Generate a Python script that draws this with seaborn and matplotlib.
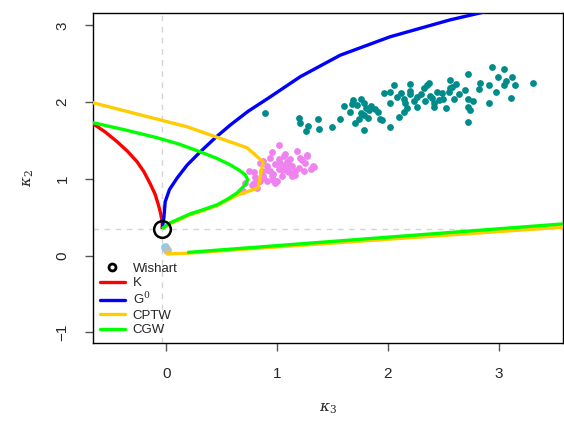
import numpy as np
import pandas as pd
import matplotlib
matplotlib.use("Agg")
import matplotlib.pyplot as plt
import seaborn as sns
from matplotlib.lines import Line2D

# ---------------- data ----------------
wishart_k3 = [-0.035]
wishart_k2 = [0.35]

k_k3 = [-0.70, -0.659, -0.55, -0.442, -0.35, -0.262, -0.20, -0.144, -0.10, -0.072, -0.05, -0.036, -0.035]
k_k2 = [1.77, 1.717, 1.61, 1.482, 1.36, 1.221, 1.09, 0.935, 0.80, 0.67, 0.55, 0.439, 0.35]

g0_k3 = [-0.035, -0.02, -0.009, 0.03, 0.099, 0.19, 0.307, 0.44, 0.578, 0.74, 0.921, 1.21, 1.57, 2.02, 2.56, 2.95]
g0_k2 = [0.35, 0.50, 0.70, 0.86, 1.01, 1.18, 1.35, 1.53, 1.70, 1.88, 2.05, 2.33, 2.61, 2.85, 3.07, 3.20]

cptw_up_k3 = [-0.70, -0.659, 0.19, 0.731, 0.875, 0.83, 0.641, 0.46, 0.217, 0.036, -0.035]
cptw_up_k2 = [2.00, 1.99, 1.677, 1.403, 1.22, 0.882, 0.785, 0.65, 0.53, 0.415, 0.35]

cgw_up_k3 = [-0.70, -0.659, -0.38, -0.081, 0.12, 0.307, 0.45, 0.578, 0.66, 0.713, 0.735, 0.713,
             0.641, 0.56, 0.46, 0.34, 0.217, 0.12, 0.036, -0.035]
cgw_up_k2 = [1.735, 1.73, 1.64, 1.534, 1.45, 1.351, 1.27, 1.182, 1.11, 1.052, 0.99, 0.921,
             0.817, 0.74, 0.661, 0.60, 0.543, 0.48, 0.426, 0.35]

cptw_low_k3 = [0.0, 0.19, 3.7]
cptw_low_k2 = [0.02, 0.03, 0.382]

cgw_low_k3 = [0.19, 3.7]
cgw_low_k2 = [0.04, 0.425]

teal_k3 = [1.600, 1.690, 1.757, 1.676, 1.787, 1.805, 1.654, 1.760, 1.781, 1.886,
           1.907, 1.925, 1.817, 1.736, 1.706, 1.570, 1.194, 1.209, 1.366, 1.284,
           1.264, 1.375, 1.495, 1.787, 0.894, 2.058, 2.196, 1.961, 2.022, 2.118,
           2.202, 2.353, 2.367, 2.322, 2.263, 2.232, 2.142, 2.157, 2.015, 2.338,
           2.398, 2.412, 2.443, 2.488, 2.548, 2.557, 2.579, 2.617, 2.497, 2.593,
           2.527, 2.412, 2.263, 2.172, 2.142, 2.097, 2.022, 1.947, 2.699, 2.719,
           2.719, 2.719, 2.719, 2.940, 3.044, 2.990, 3.120, 3.069, 3.044, 3.150,
           2.834, 2.909, 2.819, 2.978, 3.310, 3.111, 2.909, 2.768, 2.744,
           1.720, 1.850, 2.080, 2.300, 2.460, 2.640, 1.830, 2.200, 2.380, 2.560]
teal_k2 = [1.950, 2.020, 2.038, 1.977, 1.993, 1.921, 1.876, 1.855, 1.833, 1.907,
           1.876, 1.777, 1.790, 1.777, 1.733, 1.777, 1.790, 1.725, 1.781, 1.690,
           1.625, 1.651, 1.681, 1.638, 1.855, 2.224, 2.237, 2.116, 2.137, 2.124,
           2.107, 2.224, 2.246, 2.181, 2.064, 2.007, 2.038, 1.986, 1.986, 2.007,
           2.051, 1.986, 2.137, 2.116, 2.137, 2.289, 2.202, 2.237, 2.038, 2.038,
           1.921, 1.941, 1.941, 1.921, 1.876, 1.811, 1.673, 1.768, 2.159, 2.367,
           2.038, 1.941, 1.746, 2.455, 2.429, 2.332, 2.332, 2.280, 2.224, 2.224,
           2.246, 2.224, 2.168, 2.129, 2.246, 2.051, 1.993, 2.007, 1.898,
           1.960, 1.950, 2.060, 2.100, 2.020, 2.100, 1.900, 2.150, 2.080, 2.180]

pink_k3 = [1.014, 0.959, 1.074, 1.180, 1.270, 0.939, 1.014, 1.119, 1.225, 1.255,
           1.329, 1.309, 0.878, 0.909, 0.984, 1.059, 1.134, 1.194, 1.239, 1.164,
           1.089, 1.014, 0.939, 0.864, 0.749, 0.803, 0.878, 0.954, 1.044, 1.134,
           0.909, 0.999, 0.848, 0.788, 0.713, 0.683, 0.819, 0.773, 0.788, 0.848,
           0.878, 1.338, 1.275, 0.968, 1.104, 1.209, 1.089, 1.119, 1.044, 0.909,
           0.842, 0.984, 0.692, 1.030, 1.100, 0.960, 1.160, 1.060]
pink_k2 = [1.446, 1.351, 1.325, 1.368, 1.316, 1.273, 1.264, 1.264, 1.251, 1.208,
           1.165, 1.121, 1.230, 1.165, 1.186, 1.165, 1.165, 1.143, 1.100, 1.100,
           1.100, 1.121, 1.100, 1.100, 1.100, 1.021, 1.035, 1.035, 1.035, 1.035,
           0.969, 0.969, 0.969, 0.947, 0.947, 0.839, 0.882, 0.921, 1.094, 1.204,
           1.008, 1.152, 1.303, 0.986, 1.094, 1.269, 1.225, 1.160, 1.117, 1.117,
           0.977, 0.943, 0.847, 1.200, 1.220, 1.060, 1.050, 1.300]

lightblue_k3 = [-0.01]
lightblue_k2 = [0.11]
gray_k3 = [0.01]
gray_k2 = [0.075]

x_ticks = [0, 1, 2, 3]
y_ticks = [-1, 0, 1, 2, 3]

# ---------------- plot ----------------
sns.set_style("ticks")
plt.rcParams['font.family'] = ['Liberation Sans', 'DejaVu Sans']
plt.rcParams['mathtext.fontset'] = 'dejavuserif'

fig = plt.figure(figsize=(5.64, 4.23), dpi=100)
ax = fig.add_axes([93/564, 1-343/423, (563-93)/564, (343-13)/423])

# reference dashed lines
ax.axvline(wishart_k3[0], color='#D3D3D3', ls=(0, (4, 4)), lw=1, zorder=1)
ax.axhline(wishart_k2[0], color='#D3D3D3', ls=(0, (4, 4)), lw=1, zorder=1)

sct_kw = dict(s=24, linewidth=0, ax=ax, legend=False, zorder=2)
sns.scatterplot(x=teal_k3, y=teal_k2, color='#008B8B', **sct_kw)
sns.scatterplot(x=pink_k3, y=pink_k2, color='#EE82EE', **sct_kw)
sns.scatterplot(x=lightblue_k3, y=lightblue_k2, color='#87CEEB', s=40, linewidth=0, ax=ax, legend=False, zorder=2)
sns.scatterplot(x=gray_k3, y=gray_k2, color='#BEBEBE', s=40, linewidth=0, ax=ax, legend=False, zorder=2)

lw = 2.4
def curve(xs, ys, color, z):
    df = pd.DataFrame({'x': xs, 'y': ys})
    sns.lineplot(data=df, x='x', y='y', sort=False, estimator=None, color=color,
                 lw=lw, ax=ax, legend=False, zorder=z, solid_capstyle='butt',
                 solid_joinstyle='round')

curve(k_k3, k_k2, '#FF0000', 3)
curve(g0_k3, g0_k2, '#0000FF', 3)
curve(cptw_up_k3, cptw_up_k2, '#FFCC00', 3)
curve(cptw_low_k3, cptw_low_k2, '#FFCC00', 3)
curve(cgw_up_k3, cgw_up_k2, '#00FF00', 4)
curve(cgw_low_k3, cgw_low_k2, '#00FF00', 4)

ax.plot(wishart_k3, wishart_k2, 'o', mfc='none', mec='black', ms=12, mew=1.8, zorder=5)

ax.set_xlim(-0.66, 3.58)
ax.set_ylim(-1.14, 3.16)
ax.set_xticks(x_ticks)
ax.set_yticks(y_ticks)
ax.set_xticklabels([str(t) for t in x_ticks], fontsize=11)
ax.set_yticklabels(['\u22121', '0', '1', '2', '3'], fontsize=11, rotation=90, va='center')
ax.tick_params(axis='both', direction='out', length=6, width=1, color='#555555')
ax.tick_params(axis='x', pad=11)
ax.tick_params(axis='y', pad=11)
for s in ax.spines.values():
    s.set_visible(True)
    s.set_color('black')
    s.set_linewidth(1)

ax.set_xlabel(r'$\kappa_3$', fontsize=11, labelpad=15)
ax.set_ylabel(r'$\kappa_2$', fontsize=11, labelpad=14)

handles = [
    Line2D([], [], marker='o', ls='none', mfc='none', mec='black', ms=5, mew=2),
    Line2D([], [], color='#FF0000', lw=lw),
    Line2D([], [], color='#0000FF', lw=lw),
    Line2D([], [], color='#FFCC00', lw=lw),
    Line2D([], [], color='#00FF00', lw=lw),
]
labels = ['Wishart', 'K', r'G$^0$', 'CPTW', 'CGW']
ax.legend(handles, labels, loc='lower left', frameon=False, fontsize=9.5,
          handlelength=1.9, handletextpad=0.6, labelspacing=0.17,
          borderaxespad=0.3, borderpad=0.2, bbox_to_anchor=(0.0, 0.0))

fig.savefig('out.png', dpi=100)
